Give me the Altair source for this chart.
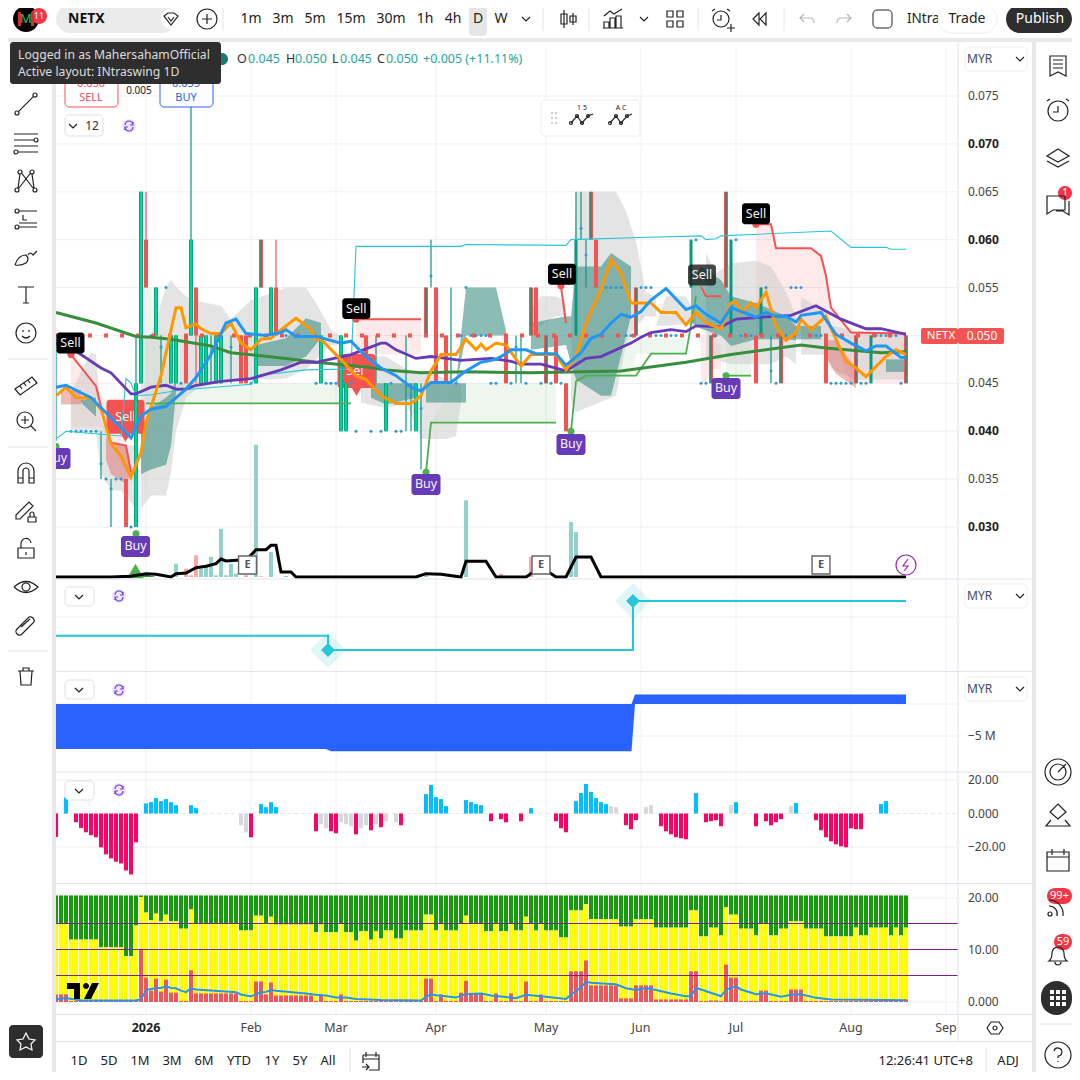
import altair as alt
import pandas as pd

FONT = "Noto Sans"
GREEN, TEAL, RED = "#00d68f", "#089981", "#f55252"

# ---------- bar index <-> time axis
month_idx = [18, 39, 56, 76, 98, 117, 136, 159, 178]
month_lbl = ["2026", "Feb", "Mar", "Apr", "May", "Jun", "Jul", "Aug", "Sep"]

# ---------- price axis
price_ticks = [0.075, 0.070, 0.065, 0.060, 0.055, 0.045, 0.040, 0.035, 0.030]
price_bold = [False, True, False, True, False, False, True, False, True]

# ---------- candles
up_i = [16, 17, 20, 23, 24, 27, 29, 30, 32, 33, 40, 43, 53, 57, 58, 66, 72]
up_o = [.03, .045, .05, .045, .045, .05, .045, .045, .045, .045, .045, .05, .045, .04, .04, .04, .04]
up_c = [.045, .065, .055, .05, .05, .06, .05, .05, .05, .05, .055, .055, .05, .05, .045, .045, .045]
up_h = [.05, .065, .055, .05, .05, .085, .05, .05, .05, .05, .055, .055, .05, .05, .045, .045, .045]
dn_i = [14, 18, 26, 28, 37, 38, 44, 62, 76, 78, 90, 96, 100, 102, 108, 140, 154]
dn_o = [.035, .06, .05, .055, .05, .05, .055, .05, .055, .05, .05, .055, .05, .045, .06, .05, .05]
dn_c = [.03, .055, .045, .05, .045, .045, .05, .045, .045, .045, .045, .05, .045, .04, .055, .045, .045]
dn_h = [.035, .065, .05, .055, .05, .05, .06, .05, .055, .05, .05, .055, .05, .045, .06, .05, .05]
dn_l = [.03, .055, .045, .045, .045, .045, .05, .045, .045, .045, .045, .05, .045, .04, .055, .045, .045]
mix_i = [41, 74, 95, 98, 107, 116, 131, 134, 145, 160, 170]
mix_o = [.06, .055, .055, .05, .065, .055, .05, .065, .05, .05, .05]
mix_c = [.055, .05, .05, .045, .06, .05, .045, .055, .045, .045, .045]
teal_i = [104, 127, 135, 141, 163]
teal_o = [.05, .055, .05, .05, .045]
teal_c = [.06, .06, .06, .055, .05]
teal_h = [.065, .06, .06, .055, .05]
thin_i = [0, 9, 11, 21, 31, 35, 64, 70, 71, 73, 75, 79, 92, 93, 105, 106, 143]
thin_h = [.05, .04, .035, .05, .05, .05, .05, .05, .045, .045, .06, .055, .05, .05, .065, .06, .05]
thin_l = [.039, .035, .03, .045, .045, .045, .045, .04, .04, .036, .055, .045, .045, .045, .06, .055, .045]

dot_i = [19, 46, 81, 83, 84, 85, 86, 114, 115, 120, 121, 123, 124, 132, 137, 139, 146, 151, 152, 153, 164, 165, 166, 167, 168,
         25, 39, 52, 54, 55, 56, 59, 67, 80, 87, 88, 91, 94, 97, 99, 101, 129, 130, 133, 144, 155, 156, 157, 158, 159, 161, 162, 169,
         3, 4, 5, 6, 7, 8, 60, 63, 65, 68, 69, 103, 10, 12, 13, 15,
         22, 82, 109, 110, 111, 112, 113, 117, 118, 119, 142, 147, 148, 149, 128, 136,
         21, 35, 9, 11, 92, 71, 73, 75, 105, 106, 143]
dot_p = [.05] * 25 + [.045] * 28 + [.04] * 12 + [.035] * 3 + [.03] + [.055] * 14 + [.06] * 2 + \
        [.0488, .0488, .0366, .034, .0488, .0438, .0424, .0562, .0612, .0584, .0463]

# ---------- overlay lines
cyan_i = [0, 2, 13, 14, 15, 16, 19, 25, 39, 40, 50, 59, 60, 81, 82, 102, 103, 115, 129, 130, 132, 133, 155, 159, 166, 167, 170]
cyan_p = [.0392, .04, .0395, .0455, .045, .0437, .0438, .0443, .0449, .0458, .0464, .0465, .0593, .0593, .0595, .0594, .06, .0602,
          .0604, .06, .0601, .0604, .0609, .0592, .0592, .059, .059]
purple_i = [0, 3, 9, 11, 15, 16, 19, 22, 24, 26, 28, 33, 39, 45, 49, 52, 59, 65, 66, 68, 72, 75, 78, 81, 87, 91, 93, 97, 102, 106, 109,
            115, 117, 119, 123, 126, 128, 133, 136, 141, 147, 152, 157, 162, 165, 170]
purple_p = [.0492, .0487, .0466, .0461, .0439, .0439, .0446, .0448, .0444, .0444, .0448, .0452, .0455, .0464, .0472, .0472, .048,
            .0492, .0492, .0485, .0476, .0478, .0476, .0474, .0476, .0473, .047, .047, .0463, .0476, .0478,
            .0492, .0498, .0503, .0506, .0504, .051, .0509, .0517, .0519, .0521, .0531, .0517, .0507, .0507, .0501]
dgreen_i = [0, 8, 16, 19, 23, 31, 35, 46, 52, 62, 66, 73, 82, 95, 113, 126, 135, 149, 154, 165, 170]
dgreen_p = [.0524, .0513, .0499, .0498, .0496, .0489, .0482, .0476, .0472, .0467, .0464, .0461, .0462, .0461, .0463, .0472, .048,
            .049, .0487, .0482, .0483]
orange_i = [0, 2, 4, 7, 9, 11, 13, 15, 17, 18, 21, 24, 25, 26, 28, 29, 31, 33, 35, 37, 39, 41, 43, 45, 48, 51, 52, 53, 56, 57, 60, 62,
            65, 68, 71, 73, 75, 77, 80, 82, 84, 85, 86, 88, 90, 93, 95, 100, 102, 104, 106, 109, 111, 113, 115, 119, 121, 124, 126,
            128, 130, 133, 135, 136, 137, 139, 140, 142, 144, 146, 148, 149, 151, 154, 156, 158, 160, 162, 166, 168, 170]
orange_p = [.0437, .0446, .0435, .0435, .0423, .0387, .0374, .0352, .0378, .0409, .0458, .0529, .0529, .0508, .0512, .0507, .0502,
            .0502, .0513, .0492, .0485, .0496, .0497, .0506, .0518, .0506, .0496, .0496, .048, .0475, .0458, .0454,
            .0437, .0429, .0429, .0437, .0463, .048, .048, .0496, .0485, .0491, .0485, .0492, .049, .0468, .048, .048, .0464, .0478,
            .0513, .0548, .0579, .0565, .0534, .0534, .0524, .0524, .0511, .0524, .0513, .0507, .0534, .0535, .0524, .0534, .0529,
            .0545, .051, .0495, .0503, .0517, .0506, .052, .0496, .0473, .0466, .0457, .0478, .0485, .048]
blue_i = [0, 2, 7, 15, 17, 19, 22, 26, 28, 31, 34, 36, 38, 42, 45, 46, 48, 52, 57, 59, 62, 65, 68, 71, 73, 75, 79, 82, 85, 88, 90, 91,
          94, 96, 100, 102, 105, 107, 109, 111, 113, 115, 117, 119, 122, 126, 128, 130, 133, 135, 140, 142, 144, 146, 148, 149, 153,
          156, 159, 162, 164, 166, 169, 170]
blue_p = [.0446, .0448, .0435, .0393, .0416, .0423, .0426, .0444, .0456, .048, .0513, .0517, .0502, .05, .0503, .0506, .0499, .0499,
          .0492, .0494, .0478, .0466, .0458, .0446, .0442, .0451, .0451, .0463, .0472, .0475, .0481, .0485,
          .0485, .0481, .0481, .0469, .0482, .0497, .0501, .0513, .0522, .0519, .0525, .0537, .0549, .0527, .0531, .0522, .0513,
          .0529, .0519, .0524, .052, .052, .0514, .0521, .0524, .0501, .0492, .0484, .0489, .0489, .0477, .0477]
redline_i = [[3, 8, 10, 11, 14, 15], [60, 73], [101, 102], [129, 130, 133],
             [140, 143, 144, 151, 153, 154, 155, 159, 170]]
redline_p = [[.048, .0447, .0405, .0388, .0385, .0357], [.0517, .0517], [.0551, .0513], [.0551, .0541, .0541],
             [.0616, .0616, .0591, .0591, .0583, .0562, .0529, .0503, .0502]]
gline_i = [[18, 59], [74, 75, 100], [103, 104, 106, 116, 119, 126, 128], [134, 139]]
gline_p = [[.0429, .0429], [.0357, .0409, .0409], [.04, .0452, .0458, .0458, .0481, .0481, .0541], [.0458, .0458]]

# ---------- clouds: [index, top, bottom]
gray_bands = [
    ([3, 5, 7, 8, 9, 11, 13, 16], [.044, .0462, .0482, .048, .0413, .0388, .0385, .0385], [.0402, .04, .0402, .04, .0357, .0338, .0338, .0319]),
    ([17, 19, 22, 23, 24, 26, 28, 33, 35, 39, 43, 46, 50, 52, 55, 59],
     [.0499, .0499, .0551, .0558, .0551, .0541, .0536, .0531, .0517, .0537, .0544, .055, .055, .0534, .0506, .0492],
     [.0319, .0333, .0333, .0357, .04, .0435, .0444, .0452, .0452, .0455, .0454, .0455, .0465, .0475, .049, .0492]),
    ([61, 66, 70, 73, 75, 78, 80, 81], [.0478, .0478, .0465, .046, .046, .0455, .0455, .045], [.043, .0424, .043, .0392, .0392, .0392, .0395, .043]),
    ([95, 97, 100, 102], [.0527, .0541, .0541, .0535], [.051, .051, .052, .052]),
    ([103, 104, 112, 114, 116, 118, 120], [.0475, .065, .065, .063, .0598, .0545, .054], [.043, .042, .0437, .049, .051, .052, .052]),
    ([120, 122, 126, 128], [.051, .0541, .0541, .052], [.051, .051, .0512, .051]),
    ([130, 132, 135, 140, 143, 146, 148], [.0586, .0565, .0575, .0578, .0572, .0545, .052], [.0475, .0475, .047, .047, .047, .0478, .047]),
    ([149, 154, 155, 160, 170], [.054, .0525, .051, .0505, .05], [.048, .048, .0465, .0454, .0454]),
]
pink_bands = [
    ([3, 9, 14, 15], [.048, .044, .0385, .0357], [.0405, .0405, .0357, .0352]),
    ([60, 73], [.0517, .0517], [.048, .048]),
    ([129, 130, 131, 133], [.05, .05, .0495, .049], [.045, .045, .0465, .0465]),
    ([140, 143, 144, 151, 153, 154, 155, 159, 170], [.0616, .0616, .0591, .0591, .0583, .0562, .0529, .0503, .0502],
     [.05, .05, .05, .05, .05, .05, .05, .045, .045]),
]
red_bands = [
    ([1, 5], [.0443, .0443], [.0428, .0428]),
    ([10, 11, 14, 15], [.0395, .0388, .0385, .0357], [.037, .0355, .0345, .0355]),
    ([154, 156, 160], [.0495, .0495, .0465], [.0478, .046, .0445]),
]
teal_bands = [
    ([5, 6, 7, 8], [.0433, .0433, .0435, .0435], [.043, .0425, .042, .0415]),
    ([17, 19, 22, 23, 24], [.0403, .0425, .0435, .044, .0455], [.0355, .036, .0365, .0385, .044]),
    ([40, 46, 50, 53], [.049, .0497, .0518, .0513], [.0468, .0468, .0478, .0497]),
    ([63, 66, 72], [.045, .045, .045], [.0435, .0428, .0435]),
    ([74, 82], [.045, .045], [.043, .043]),
    ([80, 82, 88, 90], [.0451, .055, .055, .0505], [.0446, .05, .05, .05]),
    ([95, 102, 103, 104, 109, 111, 115], [.0513, .052, .052, .0572, .0572, .0586, .0572], [.0485, .049, .047, .0454, .0437, .0437, .052]),
    ([127, 129, 133, 135, 140, 146, 148], [.0551, .0572, .0558, .0541, .0534, .052, .051], [.0514, .0507, .05, .0489, .0496, .0496, .0495]),
    ([148, 153], [.051, .051], [.0496, .0496]),
    ([166, 170], [.0475, .0475], [.0462, .0462]),
]
lgreen_bands = [
    ([18, 19, 21, 23, 59], [.055, .055, .05, .045, .045], [.0429, .0429, .0429, .0429, .0429]),
    ([75, 80, 81, 100], [.0409, .045, .045, .045], [.0409, .0409, .0409, .0409]),
    ([104, 115, 116, 126], [.05, .05, .0497, .0497], [.0452, .0458, .0481, .0481]),
    ([134, 139], [.05, .05], [.0458, .0458]),
]

# ---------- markers on the price pane
sell_i, sell_p = [2.9, 60.06, 101.2, 140], [.0492, .0528, .0564, .0627]
sell2_i, sell2_p = [129.2], [.0563]
buy_i, buy_p = [0, 15.9, 74, 103, 134], [.03716, .02797, .03445, .03862, .04447]
sellred_i, sellred_p = [13.9, 60.1], [.0415, .0463]
reddot_i, reddot_p = [3, 60, 101, 140], [.048, .0517, .0552, .0616]
gdot_i, gdot_p = [0, 16, 74, 103, 134], [.0384, .0293, .0357, .04, .0458]
earn_i, earn_v = [38.3, 97, 153], [12, 12, 12]

# ---------- volume
vol_up_i = [24, 29, 30, 31, 32, 33, 34, 35, 36, 40, 43, 46, 74, 82, 103, 104]
vol_up_v = [13.3, 8.3, 11.7, 20, 1.7, 48.3, 1.7, 13.3, 3.3, 132.3, 25, 1, 4.3, 76.7, 55, 45]
vol_dn_i = [26, 27, 28, 38, 41, 89, 95, 88, 92, 110, 112, 114, 121, 123]
vol_dn_v = [8.3, 1.7, 21.7, 1.7, .7, 3.3, 20, 1, 1, 1, 1, 1, 1, 1]
vline_i = [0, 11, 15, 18, 20, 23, 24, 26, 28, 30, 32, 33, 34, 36, 38, 40, 42, 43, 44, 45, 47, 48, 72, 74, 77, 81, 82, 86, 88, 94, 96, 98,
           100, 102, 104, 107, 109, 170]
vline_v = [0, 0, .7, 3.3, 2.7, 0, 3.3, 4, 9.3, 10.7, 13.3, 18, 16, 16.7, 16.7, 27.3, 27.3, 31.7, 31.7, 5, 5, 0, 0, 3.3, 2.7, 0, 15.7, 15.7,
           0, 0, 6.7, 6.7, 0, 0, 20, 20, 0, 0]
hump_i, hump_v = [11, 14, 16, 18, 20], [0, 2, 3, 2.5, 0]

# ---------- signal pane and band pane
sig_i = [0, 54.4, 54.4, 115.4, 115.4, 170]
sig_v = [29, 29, 0, 0, 100, 100]
sigm_i, sigm_v = [54.4, 115.4], [0, 100]
band_i = [0, 54, 55, 115.1, 115.8, 170]
band_t = [0, 0, 0, 0, 1.5, 1.5]
band_b = [-7.05, -7.05, -7.4, -7.4, 0, 0]

# ---------- histogram pane
hist_i = [0, 2, 4, 5, 6, 7, 8, 9, 10, 11, 12, 13, 14, 15, 16, 18, 19, 20, 21, 22, 23, 24, 27, 28, 37, 38, 39, 41, 42, 43, 44,
          52, 53, 54, 55, 56, 57, 58, 59, 60, 61, 62, 63, 64, 65, 66, 68, 69, 74, 75, 76, 77, 78, 82, 83, 84, 85, 87, 89, 90, 93, 95,
          100, 101, 102, 104, 105, 106, 107, 108, 109, 110, 111, 112, 114, 115, 116, 118, 119, 121, 122, 123, 124, 125, 126, 128,
          130, 131, 132, 133, 135, 136, 140, 142, 143, 144, 145, 147, 148, 152, 153, 154, 155, 156, 157, 158, 159, 160, 161, 165, 166]
hist_v = [-14, 9.6, -5.2, -8.6, -11.2, -13, -14.2, -20.2, -24.4, -26.8, -28.8, -29.8, -34, -36.4, -17.2, 6, 6.8, 9.2, 7.4, 8.6, 6.8, 5, 5, 3.2,
          -7, -11.2, -14.2, 5.6, 3.8, 6.8, 3.8,
          -10.6, -6.4, -8.8, -10.6, -11.8, -5.2, -6.4, -7.6, -12.4, -8.8, -7, -10, -6.4, -8.2, -4.6, -5.2, -7, 11.6, 17, 9.8, 8.6, 4.4, 8, 6.8, 5.6, 5,
          -4.6, -3.4, -5.2, -4.6, 3.2,
          -4.6, -8.8, -11.2, 7.4, 12.2, 17.6, 12.8, 9.2, 6.8, 5.6, 4.4, 3.8, -7, -9.4, -4, 3.8, 5, -7.6, -10.6, -12.4, -14.2, -14.8, -15.4, 12.2,
          -5.2, -4.6, -4, -7.6, 5, 6.8, -7.6, -4.6, -7, -5.2, -3.4, 4.4, 6.2, -4, -10, -14.2, -16.6, -18.4, -19.6, -20.2, -8.8, -9.4, -9.4, 5.6, 7.4]
hist_gray = [37, 38, 53, 54, 57, 58, 59, 61, 62, 64, 66, 68, 111, 112, 118, 119, 135, 147]

# ---------- bottom stacked pane
yellow_top = [15.1] * 3 + [11.9] * 6 + [10.4] * 5 + [8.7] * 2 + [14.6, 20.1, 17.1, 15.6, 16.9, 15.4, 16.7, 15.4, 15.4, 14, 14, 17.7] + \
    [15] * 9 + [13.65] * 3 + [16.5, 16.5, 15, 16.3] + [14.8] * 8 + [13.3, 14.8, 13.3, 13.3, 13.3, 15, 13.3, 13.3, 11.7, 13.5, 13.5, 11.9, 13.5, 12.1,
    13.65, 13.65, 12.1, 12.1] + [13.65] * 4 + [16.7, 16.7, 13.65, 15, 13.65, 13.65, 13.65, 15, 16.5, 15, 15, 15, 13.5, 13.5, 15, 13.5, 13.5, 15,
    13.65, 13.65, 16.3, 15, 13.65, 15, 13.65, 13.65, 13.65, 12.3, 12.3, 17.5, 17.5, 17.5, 18.7] + [15.8] * 6 + [14.4] * 3 + [15.8] * 4 + \
    [14.2] * 7 + [17.5, 17.5, 12.5, 12.5, 14.2, 14.2, 12.7, 18.1, 16.7, 16.7, 14, 14, 14, 12.7, 15, 15, 12.7, 12.7, 14, 14, 15.4, 15.4, 15.4] + \
    [14] * 4 + [12.5] * 6 + [14.2, 12.7, 12.7] + [14.2] * 4 + [12.7, 14.2, 12.7, 14.2]
red_top = [1.35] * 3 + [.1] * 14 + [10, 4.6, 2.1, 4.4, 1.9, 4.2, 1.7, 1.7, .1, .1, 6] + [1.55] * 9 + [.1] * 3 + [3.85, 3.85, 1.35, 3.65] + \
    [1.15] * 8 + [.1, 1.15, .1, .1, .1, 1.35] + [.1] * 16 + [4.4, 4.4, .1, 1.35, .1, .1, .1, 1.7, 4, 1.55, 1.55, 1.55, .1, .1, 1.55, .1, .1, 1.55,
    .1, .1, 3.85, .1, .1, 1.35] + [.1] * 5 + [5.8, 5.8, 5.8, 7.9] + [3.1] * 6 + [.6] * 3 + [3.1] * 4 + [.4] * 7 + \
    [5.8, 5.8, .1, .1, .2, .2, .1, 7.1, 4.6, 4.6, .1, .1, .1, .1, 2.1, 2.1, .1, .1, .1, .1, 2.3, 2.3, 2.3] + [.1] * 20 + [.4]
mfi_i = [0, 2, 5, 15, 16, 17, 18, 19, 20, 21, 22, 23, 24, 25, 26, 27, 28, 36, 37, 38, 39, 41, 42, 43, 44, 50, 52, 54, 56, 58, 60, 65, 73, 74, 75,
         76, 78, 80, 82, 85, 87, 90, 92, 94, 97, 102, 103, 105, 106, 107, 110, 112, 114, 116, 118, 120, 123, 126, 127, 128, 129, 132, 133, 134,
         136, 137, 140, 142, 145, 147, 149, 152, 155, 170]
mfi_v = [.4, .65, .2, .2, .25, .4, 2.2, 2.4, 2.6, 2.6, 2.9, 2.6, 2.55, 2.1, 1.8, 2.55, 2.3, 1.8, 1.35, 1.15, 1, 1.8, 1.85, 2.2, 2.05, 1.55, 1.3, 1.15,
         .75, .75, .5, .3, .2, .9, 1.4, 1.2, 1, .75, 1.45, 1.55, 1.15, .85, .65, 1.3, 1, .5, 1.35, 2.7, 3.8, 3.6, 3.4, 3.3, 2.55, 2.2, 2.6, 2.2, 1.55, 1,
         1, 2.6, 2.3, 1.35, 1, 2.3, 2.9, 2.3, 1.4, 1.6, .9, 1.3, 1.4, .7, .4, .25]
level_v = [15, 10, 5]

# ---------- scales
XI = alt.Scale(domain=[0, 170], range=[48, 898])
SCR = alt.Scale(domain=[8, 1072], range=[0, 1064])
YP = alt.Scale(domain=[0.03, 0.075], range=[519, 88])
YV = alt.Scale(domain=[0, 132], range=[569, 437])
YS = alt.Scale(domain=[0, 100], range=[642, 593])
YB = alt.Scale(domain=[-5, 0], range=[728, 696])
YH = alt.Scale(domain=[-20, 20], range=[839, 772])
YK = alt.Scale(domain=[0, 20], range=[993.5, 889.5])

layers = []


def xi(f="i"):
    return alt.X(f, type="quantitative", scale=XI, axis=None)


def yy(f, s):
    return alt.Y(f, type="quantitative", scale=s, axis=None)


def xs(f="x"):
    return alt.X(f, type="quantitative", scale=SCR, axis=None)


def ys(f="y"):
    return alt.Y(f, type="quantitative", scale=SCR, axis=None)


def rules(i, a, b, s, color, w, **kw):
    d = pd.DataFrame({"i": i, "a": a, "b": b})
    layers.append(alt.Chart(d).mark_rule(color=color, strokeWidth=w, **kw).encode(x=xi(), y=yy("a", s), y2=alt.Y2("b")))


def line(i, v, s, color, w, **kw):
    d = pd.DataFrame({"i": i, "v": v})
    layers.append(alt.Chart(d).mark_line(color=color, strokeWidth=w, **kw).encode(x=xi(), y=yy("v", s)))


def bands(lst, color, opacity):
    rows = []
    for k, (i, t, b) in enumerate(lst):
        rows += [{"g": k, "i": a, "t": c, "b": d} for a, c, d in zip(i, t, b)]
    layers.append(alt.Chart(pd.DataFrame(rows)).mark_area(color=color, opacity=opacity).encode(
        x=xi(), y=yy("t", YP), y2=alt.Y2("b"), detail="g:N"))


def points(i, v, s, color, size, shape="circle", opacity=1):
    d = pd.DataFrame({"i": i, "v": v})
    layers.append(alt.Chart(d).mark_point(filled=True, shape=shape, size=size, color=color, opacity=opacity, strokeWidth=0).encode(
        x=xi(), y=yy("v", s)))


def label_boxes(i, p, text, fill, w, h, radius=3, opacity=1.0, size=12.5):
    hw, hp = w / 2 / 5.0, h / 2 / 9580
    d = pd.DataFrame({"x0": [a - hw for a in i], "x1": [a + hw for a in i], "y0": [b - hp for b in p], "y1": [b + hp for b in p],
                      "i": i, "p": p, "t": [text] * len(i)})
    layers.append(alt.Chart(d).mark_rect(color=fill, cornerRadius=radius, opacity=opacity).encode(
        x=xi("x0"), x2=alt.X2("x1"), y=yy("y0", YP), y2=alt.Y2("y1")))
    layers.append(alt.Chart(d).mark_text(color="white", font=FONT, fontSize=size, opacity=.95).encode(
        x=xi("i"), y=yy("p", YP), text="t:N"))


def screen_rects(rows, radius=0):
    d = pd.DataFrame(rows, columns=["x", "y", "x2", "y2", "f", "s"])
    layers.append(alt.Chart(d).mark_rect(cornerRadius=radius, strokeWidth=1).encode(
        x=xs(), x2=alt.X2("x2"), y=ys(), y2=alt.Y2("y2"),
        fill=alt.Fill("f:N", scale=None), stroke=alt.Stroke("s:N", scale=None)))


def screen_lines(rows, w=1):
    d = pd.DataFrame(rows, columns=["x", "y", "x2", "y2", "c"])
    layers.append(alt.Chart(d).mark_rule(strokeWidth=w).encode(
        x=xs(), x2=alt.X2("x2"), y=ys(), y2=alt.Y2("y2"), color=alt.Color("c:N", scale=None)))


def texts(rows, align="center", weight="normal"):
    d = pd.DataFrame(rows, columns=["x", "y", "t", "z", "c"])
    layers.append(alt.Chart(d).mark_text(font=FONT, align=align, baseline="middle", fontWeight=weight).encode(
        x=xs(), y=ys(), text="t:N", size=alt.Size("z:Q", scale=None), color=alt.Color("c:N", scale=None)))


def icons(rows, filled=False, w=1.2):
    d = pd.DataFrame(rows, columns=["x", "y", "p", "c"])
    layers.append(alt.Chart(d).mark_point(filled=filled, size=4, opacity=1, strokeWidth=(0 if filled else w)).encode(
        x=xs(), y=ys(), shape=alt.Shape("p:N", scale=None), color=alt.Color("c:N", scale=None)))


def circ(x, y, r):
    return f"M{x - r} {y}a{r} {r} 0 1 0 {2 * r} 0a{r} {r} 0 1 0 {-2 * r} 0"


# ---------- grid
GRID = "#f0f0f3"
d = pd.DataFrame({"i": month_idx})
layers.append(alt.Chart(d).mark_rule(color=GRID, strokeWidth=1).encode(
    x=xi(), y=alt.value(40), y2=alt.value(1006)))
grid_p = [0.05] + price_ticks
d = pd.DataFrame({"p": grid_p, "a": [56] * len(grid_p), "b": [958] * len(grid_p)})
layers.append(alt.Chart(d).mark_rule(color=GRID, strokeWidth=1).encode(x=xs("a"), x2=alt.X2("b"), y=yy("p", YP)))
screen_lines([(56, 617, 958, 617, GRID), (56, 704, 958, 704, GRID), (56, 736, 958, 736, GRID), (56, 780, 958, 780, GRID),
              (56, 847, 958, 847, GRID), (56, 898, 958, 898, GRID), (56, 950, 958, 950, GRID), (56, 1002, 958, 1002, GRID)])
d = pd.DataFrame({"a": [56], "b": [958], "v": [0]})
layers.append(alt.Chart(d).mark_rule(color="#e8e8e8", strokeWidth=1, strokeDash=[4, 3]).encode(x=xs("a"), x2=alt.X2("b"), y=yy("v", YH)))

# ---------- clouds
bands(lgreen_bands, "#4caf50", .1)
bands(pink_bands, "#f55252", .12)
bands(gray_bands, "#c9c9c9", .5)
bands(red_bands, "#d9534f", .4)
bands(teal_bands, "#3f8f85", .6)

# ---------- volume
rules(vol_up_i, [0] * len(vol_up_i), vol_up_v, YV, "#92d2cb", 4)
rules(vol_dn_i, [0] * len(vol_dn_i), vol_dn_v, YV, "#f7a9a7", 4)
d = pd.DataFrame({"i": hump_i, "v": hump_v})
layers.append(alt.Chart(d).mark_area(color="#388e3c").encode(x=xi(), y=yy("v", YV)))
points([15.9], [6], YV, "#4caf50", 280, "triangle-up")

# ---------- Sell (red) block labels sit under the candles
label_boxes(sellred_i, sellred_p, "Sell", RED, 38, 34)
points(sellred_i, [p - .0021 for p in sellred_p], YP, RED, 130, "triangle-down")

# ---------- candles
rules(thin_i, thin_l, thin_h, YP, TEAL, 1.2)
rules(up_i, up_o, up_h, YP, TEAL, 1.2)
rules(up_i, up_o, up_c, YP, TEAL, 4)
rules(up_i, up_o, up_c, YP, GREEN, 2.4)
rules(dn_i, dn_l, dn_h, YP, RED, 1.2)
rules(dn_i, dn_o, dn_c, YP, RED, 4)
rules(mix_i, mix_o, mix_c, YP, RED, 4)
rules(mix_i, mix_o, mix_c, YP, TEAL, 1.4)
rules(teal_i, teal_o, teal_h, YP, TEAL, 1.2)
rules(teal_i, teal_o, teal_c, YP, TEAL, 3)
points(dot_i, dot_p, YP, "#2e9bd1", 9)

# ---------- price line
d = pd.DataFrame({"a": [56], "b": [906], "p": [.05]})
layers.append(alt.Chart(d).mark_rule(color=RED, strokeWidth=4, strokeDash=[4, 12]).encode(x=xs("a"), x2=alt.X2("b"), y=yy("p", YP)))

# ---------- overlays
line(cyan_i, cyan_p, YP, "#26c6da", 1.1)
for a, b in zip(gline_i, gline_p):
    line(a, b, YP, "#4caf50", 1.8)
for a, b in zip(redline_i, redline_p):
    line(a, b, YP, RED, 2)
line(dgreen_i, dgreen_p, YP, "#388e3c", 3)
line(purple_i, purple_p, YP, "#673ab7", 2.8)
line(orange_i, orange_p, YP, "#ff9800", 3)
line(blue_i, blue_p, YP, "#2196f3", 3)
line(vline_i, vline_v, YV, "#000000", 3)

# ---------- trade markers
points(reddot_i, reddot_p, YP, RED, 50)
points(gdot_i, gdot_p, YP, "#4caf50", 50)
label_boxes(sell_i, sell_p, "Sell", "#000000", 28, 21)
label_boxes(sell2_i, sell2_p, "Sell", "#1a1a1a", 28, 21, opacity=.8)
label_boxes(buy_i, buy_p, "Buy", "#673ab7", 29, 21)
d = pd.DataFrame({"i": earn_i, "v": earn_v, "t": ["E"] * 3})
layers.append(alt.Chart(d).mark_point(shape="square", filled=True, size=320, fill="white", stroke="#666666", strokeWidth=1.4, opacity=1).encode(
    x=xi(), y=yy("v", YV)))
layers.append(alt.Chart(d).mark_text(font=FONT, fontSize=11, fontWeight="bold", color="#555555").encode(
    x=xi(), y=yy("v", YV), text="t:N"))

# ---------- signal pane
points(sigm_i, sigm_v, YS, "#26c6da", 1300, "diamond", .15)
line(sig_i, sig_v, YS, "#26c6da", 2)
points(sigm_i, sigm_v, YS, "#26c6da", 190, "diamond")

# ---------- band pane
d = pd.DataFrame({"i": band_i, "t": band_t, "b": band_b})
layers.append(alt.Chart(d).mark_area(color="#2962ff").encode(x=xi(), y=yy("t", YB), y2=alt.Y2("b")))

# ---------- histogram pane
hc = ["#d6d8dc" if a in hist_gray else ("#00bfff" if b > 0 else "#ff0066") for a, b in zip(hist_i, hist_v)]
d = pd.DataFrame({"i": hist_i, "v": hist_v, "z": [0] * len(hist_i), "c": hc})
layers.append(alt.Chart(d).mark_rule(strokeWidth=4).encode(x=xi(), y=yy("z", YH), y2=alt.Y2("v"), color=alt.Color("c:N", scale=None)))

# ---------- stacked pane
idx = list(range(171))
rules(idx, yellow_top, [20.4] * 171, YK, "#159b0c", 4)
rules(idx, [-.1] * 171, yellow_top, YK, "#ffff00", 4)
rules(idx, [-.1] * 171, red_top, YK, "#f15555", 4)
d = pd.DataFrame({"v": level_v, "a": [56] * 3, "b": [958] * 3})
layers.append(alt.Chart(d).mark_rule(color="#7d1f8f", strokeWidth=1).encode(x=xs("a"), x2=alt.X2("b"), y=yy("v", YK)))
line(mfi_i, mfi_v, YK, "#2196f3", 2)
icons([(83, 991, "M-16 -8H-3V8H-9V-2H-16Z" + circ(3, -5, 3) + "M9 -8H16L8 8H1Z", "#000000")], filled=True)

# ---------- frame
FR = "#e9e9e9"
screen_rects([(8, 8, 52, 1072, "#ffffff", "transparent"), (1036, 8, 1072, 1072, "#ffffff", "transparent"),
              (8, 8, 1072, 38, "#ffffff", "transparent"), (958, 42, 1032, 1042, "#ffffff", "transparent"),
              (52, 1042, 1032, 1072, "#ffffff", "transparent"), (52, 1015, 958, 1041, "#ffffff", "transparent"),
              (8, 38, 1072, 42, FR, "transparent"), (52, 42, 56, 1072, FR, "transparent"), (1032, 42, 1036, 1072, FR, "transparent")])
PANE = "#e2e2ec"
screen_lines([(958, 42, 958, 1042, PANE), (56, 671.5, 1032, 671.5, PANE), (56, 772, 1032, 772, PANE), (56, 883.5, 1032, 883.5, PANE),
              (56, 579, 1032, 579, PANE), (56, 1014.5, 1032, 1014.5, PANE), (56, 1041.5, 1032, 1041.5, PANE), (986, 1048, 986, 1072, PANE),
              (350, 1048, 350, 1072, PANE), (223, 8, 223, 31, PANE), (543, 8, 543, 31, PANE), (589, 8, 589, 31, PANE), (698, 8, 698, 31, PANE),
              (784, 8, 784, 31, PANE), (8, 359, 48, 359, PANE), (8, 447, 48, 447, PANE), (8, 651, 48, 651, PANE), (1040, 1024, 1072, 1024, PANE)])

# ---------- price scale text
d = pd.DataFrame({"p": [p for p, b in zip(price_ticks, price_bold) if not b], "x": 968, "t": [f"{p:.3f}" for p, b in zip(price_ticks, price_bold) if not b]})
layers.append(alt.Chart(d).mark_text(font=FONT, fontSize=12, align="left", color="#444444").encode(x=xs(), y=yy("p", YP), text="t:N"))
d = pd.DataFrame({"p": [p for p, b in zip(price_ticks, price_bold) if b], "x": 968, "t": [f"{p:.3f}" for p, b in zip(price_ticks, price_bold) if b]})
layers.append(alt.Chart(d).mark_text(font=FONT, fontSize=12, align="left", fontWeight="bold", color="#222222").encode(x=xs(), y=yy("p", YP), text="t:N"))
d = pd.DataFrame({"v": [20, 0, -20], "x": 968, "t": ["20.00", "0.000", "\u221220.00"]})
layers.append(alt.Chart(d).mark_text(font=FONT, fontSize=12, align="left", color="#444444").encode(x=xs(), y=yy("v", YH), text="t:N"))
d = pd.DataFrame({"v": [20, 10, 0], "x": 968, "t": ["20.00", "10.00", "0.000"]})
layers.append(alt.Chart(d).mark_text(font=FONT, fontSize=12, align="left", color="#444444").encode(x=xs(), y=yy("v", YK), text="t:N"))
d = pd.DataFrame({"v": [-5], "x": 968, "t": ["\u22125 M"]})
layers.append(alt.Chart(d).mark_text(font=FONT, fontSize=12, align="left", color="#444444").encode(x=xs(), y=yy("v", YB), text="t:N"))

# ---------- time axis
d = pd.DataFrame({"i": month_idx[1:], "t": month_lbl[1:], "y": 1028})
layers.append(alt.Chart(d).mark_text(font=FONT, fontSize=12.5, color="#444444").encode(x=xi(), y=ys(), text="t:N"))
d = pd.DataFrame({"i": month_idx[:1], "t": month_lbl[:1], "y": 1028})
layers.append(alt.Chart(d).mark_text(font=FONT, fontSize=12.5, fontWeight="bold", color="#222222").encode(x=xi(), y=ys(), text="t:N"))

# ---------- chrome boxes
DK = "#222222"
texts([(907, 19, "INtra", 13.5, DK)], "left")
screen_rects([(56, 5, 176, 33, "#ebebeb", "transparent"), (938, 5, 997, 33, "#ffffff", "#eeeeee"), (1006, 5, 1072, 33, "#2e2e2e", "transparent")], 14)
screen_rects([(469, 2, 487, 36, "#e6e6e6", "transparent"), (65, 78, 118, 107, "#ffffff", "#f7525f"), (160, 78, 213, 107, "#ffffff", "#2962ff"),
              (65, 115, 103, 136, "#ffffff", "#e0e0e0"), (65, 587, 94, 606, "#ffffff", "#e0e0e0"), (65, 680, 94, 699, "#ffffff", "#e0e0e0"),
              (65, 781, 94, 800, "#ffffff", "#e0e0e0"), (965, 47, 1027, 71, "#ffffff", "#eeeeee"), (965, 584, 1027, 608, "#ffffff", "#eeeeee"),
              (965, 677, 1027, 701, "#ffffff", "#eeeeee"), (541, 100, 640, 136, "#ffffff", "#ededed"), (9, 1025, 43, 1058, "#2e2e2e", "transparent"),
              (873, 10, 892, 28, "#ffffff", "#222222")], 4)
texts([(91, 84, "0.050", 11, "#f7525f"), (186, 84, "0.055", 11, "#2962ff")])
screen_rects([(216, 53, 228, 65, "#1f7a6c", "transparent")], 6)
screen_rects([(10, 42, 221, 84, "#2e2e2e", "transparent")], 3)
screen_rects([(921, 328, 958, 344, RED, "transparent"), (958, 328, 1004, 344, RED, "transparent")], 2)
screen_rects([(1047, 888, 1072, 904, "#f23645", "transparent"), (1054, 934, 1072, 950, "#f23645", "transparent")], 8)
screen_rects([(13, 6, 39, 32, "#000000", "transparent"), (31, 8, 47, 24, "#f23645", "transparent"), (161, 9, 181, 29, "#ffffff", "transparent"),
              (1058, 186, 1072, 200, "#f23645", "transparent"), (1041, 981, 1072, 1015, "#2e2e2e", "transparent"),
              (122, 119, 136, 133, "#ece5fb", "transparent"),
              (112, 589, 126, 603, "#ece5fb", "transparent"), (112, 683, 126, 697, "#ece5fb", "transparent"), (112, 783, 126, 797, "#ece5fb", "transparent")], 17)

# ---------- chrome texts
texts([(251, 19, "1m", 14, DK), (283, 19, "3m", 14, DK), (315, 19, "5m", 14, DK), (351, 19, "15m", 14, DK), (391, 19, "30m", 14, DK),
       (425, 19, "1h", 14, DK), (453, 19, "4h", 14, DK), (478, 19, "D", 14, DK), (501, 19, "W", 14, DK), (967, 19, "Trade", 14, DK),
       (1040, 19, "Publish", 14, "#ffffff"), (39, 16, "11", 9, "#ffffff"), (1065, 193, "1", 10, "#ffffff"), (1059.5, 896, "99+", 11, "#ffffff"),
       (1063, 942, "59", 11, "#ffffff"), (26, 19, "M", 13, "#19c37d"),
       (79, 1061, "1D", 13, DK), (109, 1061, "5D", 13, DK), (140, 1061, "1M", 13, DK), (172, 1061, "3M", 13, DK), (204, 1061, "6M", 13, DK),
       (239, 1061, "YTD", 13, DK), (272, 1061, "1Y", 13, DK), (300, 1061, "5Y", 13, DK), (328, 1061, "All", 13, DK), (1008, 1061, "ADJ", 13, DK),
       (91, 98, "SELL", 11, "#f7525f"), (186, 98, "BUY", 11, "#2962ff"),
       (139, 91, "0.005", 10, DK), (92, 126, "12", 12, "#333333"), (941, 336, "NETX", 11.5, "#ffffff"), (982, 336, "0.050", 12, "#ffffff"),
       (582, 108, "1  5", 7, DK), (621, 108, "A  C", 7, DK)])
texts([(18, 55, "Logged in as MahersahamOfficial", 12.2, "#dddddd"), (18, 72, "Active layout: INtraswing 1D", 12.2, "#dddddd"),
       (237, 59, "O", 12.5, "#333333"), (248, 59, "0.045", 12.5, "#26a69a"), (286, 59, "H", 12.5, "#333333"), (295, 59, "0.050", 12.5, "#26a69a"),
       (332, 59, "L", 12.5, "#333333"), (340, 59, "0.045", 12.5, "#26a69a"), (377, 59, "C", 12.5, "#333333"), (386, 59, "0.050", 12.5, "#26a69a"),
       (423, 59, "+0.005 (+11.11%)", 12.5, "#26a69a"), (967, 59, "MYR", 12, "#3b4a6b"), (967, 596, "MYR", 12, "#3b4a6b"), (967, 689, "MYR", 12, "#3b4a6b")], "left")
texts([(68, 19, "NETX", 14, "#111111")], "left", "bold")
texts([(973, 1061, "12:26:41 UTC+8", 13, DK)], "right")

# ---------- icons
CH = "M-4 -2L0 2L4 -2"
REFRESH = "M-4 -1A4 4 0 0 1 4 -1M4 1A4 4 0 0 1 -4 1M4 -4V-1H1M-4 4V1H-1"
WAVE = "M-11 4L-5 -3L0 4L6 -3L11 -5" + circ(-11, 4, 1.5) + circ(-5, -3, 1.5) + circ(0, 4, 1.5) + circ(6, -3, 1.5)
icons([
    (207, 19, circ(0, 0, 10) + "M-5 0H5M0 -5V5", DK),
    (171, 19, "M-7 -3L-3 -6H3L7 -3L0 6ZM-3 -2L0 2L3 -2", DK),
    (526, 19, CH, DK), (644, 19, CH, DK), (1020, 59, CH, DK), (1020, 596, CH, DK), (1020, 689, CH, DK), (73, 126, CH, DK),
    (79, 597, CH, DK), (79, 690, CH, DK), (79, 791, CH, DK),
    (568, 19, "M-4 -9V9M-7 -5H-1V5H-7ZM5 -6V6M2 -3H8V3H2Z", DK),
    (613, 19, "M-9 -3L-3 -8L1 -5L9 -10M-9 9V3H-4V9ZM-3 9V-1H2V9ZM3 9V-3H8V9ZM-10 9H10", DK),
    (675, 19, "M-8 -8H-2V-2H-8ZM2 -8H8V-2H2ZM-8 2H-2V8H-8ZM2 2H8V8H2Z", DK),
    (721, 19, circ(0, 0, 8) + "M0 -4V1H-4M-9 -8L-6 -10M9 -8L6 -10M6 9H14M10 5V13", DK),
    (760, 19, "M-1 -6L-7 0L-1 6ZM6 -6L0 0L6 6Z", DK),
    (807, 19, "M-3 -5L-7 -1L-3 3M-7 -1H3Q7 -1 7 4", "#b5b5b5"), (844, 19, "M3 -5L7 -1L3 3M7 -1H-3Q-7 -1 -7 4", "#b5b5b5"),
    (26, 104, circ(-9, 9, 2) + circ(9, -9, 2) + "M-7.6 7.6L7.6 -7.6", DK),
    (26, 143, "M-12 -9H12M-12 -3H8M-12 3H12M-8 9H12" + circ(10, -3, 2) + circ(-10, 9, 2), DK),
    (26, 181, circ(-9, 9, 2) + circ(9, 9, 2) + circ(-6, -9, 2) + circ(6, -9, 2) + "M-8 7L-6 -7M8 7L6 -7M-4.5 -8L7 7M4.5 -8L-7 7", DK),
    (26, 219, circ(-9, -8, 2) + circ(-9, 8, 2) + "M-7 -8H11M-7 8H11M-7 4H11M-3 -4V1H1", DK),
    (26, 257, "M-11 8Q-8 -2 0 -2Q4 2 0 6Q-5 9 -11 8M2 -2Q4 -6 7 -2Q9 -4 11 -6", DK),
    (26, 295, "M-8 -8H8M0 -8V8M-3 8H3", DK),
    (26, 333, circ(0, 0, 10) + "M-4 3Q0 7 4 3M-3 -3V-1M3 -3V-1", DK),
    (26, 384, "M-11 5L6 -7L11 -1L-6 11ZM-6 2L-4 5M-2 -1L0 2M2 -4L4 -1M6 -7", DK),
    (26, 421, circ(-1, -1, 8) + "M5 5L10 10M-5 -1H3M-1 -5V3", DK),
    (26, 473, "M-8 10V-2A8 8 0 0 1 8 -2V10H3V-2A3 3 0 0 0 -3 -2V10ZM-8 5H-3M3 5H8", DK),
    (26, 511, "M-10 4L3 -9L7 -5L-6 8H-10ZM2 6H10V11H2ZM4 6V3A2 2 0 0 1 8 3V6", DK),
    (26, 549, "M-8 -1H8V9H-8ZM-5 -1V-5A5 5 0 0 1 5 -6M0 3V6", DK),
    (26, 587, "M-12 0Q0 -11 12 0Q0 11 -12 0" + circ(0, 0, 4), DK),
    (26, 625, "M-9 4L3 -8A4 4 0 0 1 8 -3L-4 9A3 3 0 0 1 -9 4M-5 2L4 -6", DK),
    (26, 676, "M-8 -5H8M-3 -5V-8H3V-5M-6 -5L-5 9H5L6 -5", DK),
    (26, 1042, "M0 -9L3 -3L9 -2L5 2L6 8L0 5L-6 8L-5 2L-9 -2L-3 -3Z", "#ffffff"),
    (1058, 66, "M-8 -10H8V10L0 6L-8 10ZM-5 -6H5M-5 -2H5M-5 2H5", DK),
    (1058, 111, circ(0, 0, 10) + "M0 -5V1H-5M-11 -10L-8 -12M11 -10L8 -12", DK),
    (1058, 157, "M0 -8L11 -1L0 5L-11 -1ZM-11 4L0 10L11 4", DK),
    (1058, 204, "M-11 -8H7V6H-5L-11 10ZM11 -3V11L5 7H-2", DK),
    (1058, 772, circ(0, 0, 13) + circ(0, 0, 8) + "M0 0L8 -8", DK),
    (1058, 816, "M0 -12L8 -4L0 3L-8 -4ZM-7 4L-12 10H12L7 4", DK),
    (1058, 860, "M-11 -8H11V11H-11ZM-11 -3H11M-6 -11V-5M6 -11V-5", DK),
    (1058, 908, circ(-8, 6, 2) + "M-9 -2A8 8 0 0 1 -1 8M-9 -8A14 14 0 0 1 5 8", DK),
    (1058, 955, "M-9 6Q-6 4 -6 -2A6 6 0 0 1 6 -2Q6 4 9 6H-9ZM-3 7A3 3 0 0 0 3 7", DK),
    (1058, 1055, circ(0, 0, 13) + "M-4 -4A4 4 0 1 1 0 1V3M0 6V7", DK),
    (995, 1028, "M-8 0L-4 -6H4L8 0L4 6H-4Z" + circ(0, 0, 2), DK),
    (371, 1061, "M-8 -6H8V9H-2M-8 -6V2M-5 -9V-4M5 -9V-4M-8 -2H8M-9 6H-2M-5 3L-2 6L-5 9", DK),
    (129, 126, REFRESH, "#6a3de8"), (119, 596, REFRESH, "#6a3de8"), (119, 690, REFRESH, "#6a3de8"), (119, 790, REFRESH, "#6a3de8"),
    (906, 565, circ(0, 0, 10) + "M2 -6L-3 1H2L-2 6", "#9c27b0"),
    (582, 119, WAVE, DK), (621, 119, WAVE, DK),
])
icons([(1058, 998, "M-8 -8H-4V-4H-8ZM-2 -8H2V-4H-2ZM4 -8H8V-4H4ZM-8 -2H-4V2H-8ZM-2 -2H2V2H-2ZM4 -2H8V2H4ZM-8 4H-4V8H-8ZM-2 4H2V8H-2ZM4 4H8V8H4Z", "#ffffff"),
       (26, 19, "M-8 -7H-5V7H-8ZM5 -7H8V7H5Z", "#d32f2f"),
       (552, 118, "M-1 -6H1V-4H-1ZM-1 -1H1V1H-1ZM-1 4H1V6H-1ZM3 -6H5V-4H3ZM3 -1H5V1H3ZM3 4H5V6H3Z", "#cccccc")], filled=True)

chart = alt.layer(*layers).resolve_scale(x="independent", y="independent").properties(
    width=1064, height=1064, padding=0, autosize=alt.AutoSizeParams(type="none")
).configure_view(stroke=None)
chart.save("out.html", embed_options={"renderer": "svg", "actions": False})
